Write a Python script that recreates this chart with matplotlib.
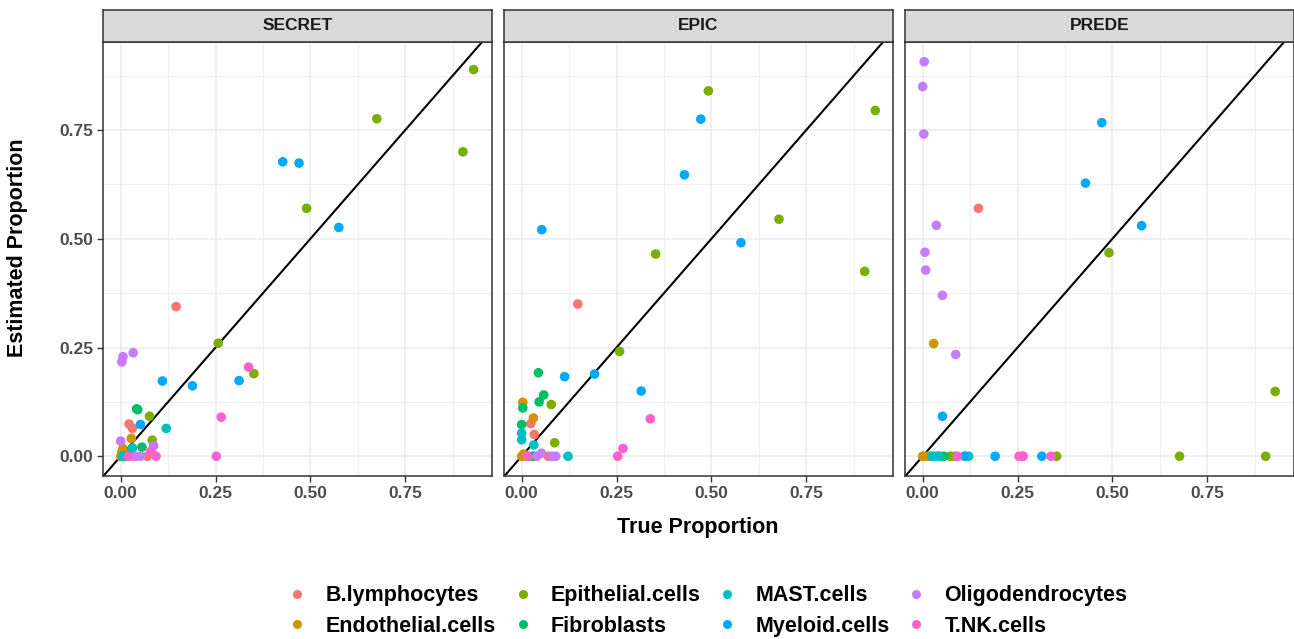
import matplotlib
matplotlib.use("Agg")
import matplotlib.pyplot as plt
from matplotlib.lines import Line2D
import numpy as np

plt.rcParams['font.family'] = ['Liberation Sans', 'DejaVu Sans']
plt.rcParams['font.weight'] = 'bold'

methods = ["SECRET", "EPIC", "PREDE"]
cell_types = ["B.lymphocytes", "Endothelial.cells", "Epithelial.cells", "Fibroblasts",
              "MAST.cells", "Myeloid.cells", "Oligodendrocytes", "T.NK.cells"]
colors = ["#F8766D", "#CD9600", "#7CAE00", "#00BE67", "#00BFC4", "#00A9FF", "#C77CFF", "#FF61CC"]
x_ticks = [0.0, 0.25, 0.5, 0.75]
x_tick_labels = ["0.00", "0.25", "0.50", "0.75"]

# SECRET: (true, estimated) per cell type
secret_true = {
    "B.lymphocytes":     [0.146, 0.022, 0.031, 0.034, 0.070, 0.010],
    "Endothelial.cells": [0.028, 0.006, 0.000, 0.009, 0.015, 0.003],
    "Epithelial.cells":  [0.930, 0.675, 0.902, 0.490, 0.257, 0.351, 0.076, 0.083],
    "Fibroblasts":       [0.042, 0.045, 0.056, 0.026, 0.010],
    "MAST.cells":        [0.120, 0.031, 0.020, 0.005],
    "Myeloid.cells":     [0.427, 0.470, 0.575, 0.110, 0.189, 0.312, 0.052],
    "Oligodendrocytes":  [0.006, 0.003, 0.033, 0.000, 0.087, 0.052, 0.040],
    "T.NK.cells":        [0.337, 0.265, 0.252, 0.079, 0.093, 0.020],
}
secret_est = {
    "B.lymphocytes":     [0.344, 0.074, 0.064, 0.000, 0.000, 0.000],
    "Endothelial.cells": [0.041, 0.018, 0.000, 0.000, 0.005, 0.010],
    "Epithelial.cells":  [0.889, 0.776, 0.700, 0.570, 0.260, 0.190, 0.092, 0.037],
    "Fibroblasts":       [0.109, 0.107, 0.021, 0.004, 0.000],
    "MAST.cells":        [0.064, 0.019, 0.000, 0.000],
    "Myeloid.cells":     [0.677, 0.674, 0.526, 0.173, 0.162, 0.174, 0.073],
    "Oligodendrocytes":  [0.229, 0.217, 0.238, 0.035, 0.024, 0.000, 0.000],
    "T.NK.cells":        [0.205, 0.090, 0.000, 0.011, 0.000, 0.000],
}

epic_true = {
    "B.lymphocytes":     [0.148, 0.024, 0.033, 0.070, 0.034],
    "Endothelial.cells": [0.003, 0.031, 0.000, 0.010, 0.020, 0.005],
    "Epithelial.cells":  [0.492, 0.932, 0.678, 0.353, 0.904, 0.258, 0.078, 0.087],
    "Fibroblasts":       [0.044, 0.058, 0.046, 0.003, 0.000, 0.030],
    "MAST.cells":        [0.000, 0.000, 0.032, 0.122],
    "Myeloid.cells":     [0.472, 0.429, 0.053, 0.578, 0.113, 0.192, 0.315],
    "Oligodendrocytes":  [0.040, 0.052, 0.080, 0.090],
    "T.NK.cells":        [0.339, 0.267, 0.253, 0.015],
}
epic_est = {
    "B.lymphocytes":     [0.350, 0.075, 0.050, 0.000, 0.000],
    "Endothelial.cells": [0.124, 0.088, 0.000, 0.000, 0.000, 0.005],
    "Epithelial.cells":  [0.840, 0.795, 0.545, 0.465, 0.425, 0.241, 0.119, 0.031],
    "Fibroblasts":       [0.192, 0.141, 0.125, 0.111, 0.073, 0.000],
    "MAST.cells":        [0.053, 0.038, 0.026, 0.000],
    "Myeloid.cells":     [0.775, 0.647, 0.521, 0.491, 0.183, 0.189, 0.150],
    "Oligodendrocytes":  [0.000, 0.007, 0.000, 0.000],
    "T.NK.cells":        [0.086, 0.018, 0.000, 0.000],
}

prede_true = {
    "B.lymphocytes":     [0.147, 0.020],
    "Endothelial.cells": [0.029, 0.000, 0.006, 0.012],
    "Epithelial.cells":  [0.491, 0.929, 0.677, 0.904, 0.353, 0.263, 0.073, 0.085],
    "Fibroblasts":       [0.056, 0.045],
    "MAST.cells":        [0.025, 0.035, 0.042, 0.113, 0.121],
    "Myeloid.cells":     [0.472, 0.429, 0.577, 0.052, 0.191, 0.314, 0.110],
    "Oligodendrocytes":  [0.004, 0.000, 0.003, 0.036, 0.006, 0.008, 0.052, 0.087],
    "T.NK.cells":        [0.091, 0.254, 0.338, 0.265],
}
prede_est = {
    "B.lymphocytes":     [0.570, 0.000],
    "Endothelial.cells": [0.259, 0.000, 0.000, 0.000],
    "Epithelial.cells":  [0.468, 0.149, 0.000, 0.000, 0.000, 0.000, 0.000, 0.000],
    "Fibroblasts":       [0.000, 0.000],
    "MAST.cells":        [0.000, 0.000, 0.000, 0.000, 0.000],
    "Myeloid.cells":     [0.767, 0.628, 0.530, 0.092, 0.000, 0.000, 0.000],
    "Oligodendrocytes":  [0.907, 0.850, 0.741, 0.531, 0.469, 0.428, 0.370, 0.234],
    "T.NK.cells":        [0.000, 0.000, 0.000, 0.000],
}

data_true = [secret_true, epic_true, prede_true]
data_est = [secret_est, epic_est, prede_est]

W, H = 1294, 639
fig = plt.figure(figsize=(W / 100, H / 100), dpi=100)

def fx(px):
    return px / W

def fy(py):
    return 1 - py / H

xlim = (-0.0466, 0.9786)
ylim = (-0.0454, 0.9524)
panel_left = [103, 504, 905]
panel_w = 389
panel_top, panel_bot = 42, 476
strip_top = 10

edge_col = "#333333"
for i, m in enumerate(methods):
    ax = fig.add_axes([fx(panel_left[i]), fy(panel_bot), panel_w / W, (panel_bot - panel_top) / H])
    ax.set_xlim(*xlim)
    ax.set_ylim(*ylim)
    ax.set_facecolor("white")
    ax.set_xticks(x_ticks)
    ax.set_xticks([0.125, 0.375, 0.625, 0.875], minor=True)
    ax.set_yticks(x_ticks)
    ax.set_yticks([0.125, 0.375, 0.625, 0.875], minor=True)
    ax.grid(which="major", color="#EBEBEB", linewidth=1.1)
    ax.grid(which="minor", color="#EBEBEB", linewidth=0.55)
    ax.set_axisbelow(True)
    for s in ax.spines.values():
        s.set_color(edge_col)
        s.set_linewidth(1.1)
    ax.tick_params(which="minor", length=0)
    ax.tick_params(which="major", length=4, width=1.0, color=edge_col,
                   labelsize=12.5, labelcolor="#4D4D4D", pad=3)
    ax.set_xticklabels(x_tick_labels, fontweight="bold")
    if i == 0:
        ax.set_yticklabels(x_tick_labels, fontweight="bold")
    else:
        ax.tick_params(axis="y", which="both", left=False, labelleft=False)
    # identity line
    ax.axline((0, 0), slope=1, color="black", linewidth=1.5, zorder=2)
    for ct, c in zip(cell_types, colors):
        ax.scatter(data_true[i][ct], data_est[i][ct], s=48, color=c,
                   edgecolors="none", zorder=3, clip_on=True)
    # strip
    sax = fig.add_axes([fx(panel_left[i]), fy(panel_top), panel_w / W, (panel_top - strip_top) / H])
    sax.set_facecolor("#D9D9D9")
    sax.set_xticks([])
    sax.set_yticks([])
    for s in sax.spines.values():
        s.set_color(edge_col)
        s.set_linewidth(1.1)
    sax.text(0.5, 0.5, m, ha="center", va="center", fontsize=12.5,
             fontweight="bold", color="#1A1A1A", transform=sax.transAxes)

fig.text(fx(698), fy(527), "True Proportion", ha="center", va="center",
         fontsize=15.5, fontweight="bold", color="black")
fig.text(fx(18), fy(248), "Estimated Proportion", ha="center", va="center",
         rotation=90, fontsize=15.5, fontweight="bold", color="black")

handles = [Line2D([0], [0], marker="o", linestyle="none", markersize=6.5,
                  markerfacecolor=c, markeredgecolor="none") for c in colors]
fig.legend(handles, cell_types, ncol=4, loc="center", bbox_to_anchor=(fx(707), fy(611)),
           frameon=False, prop={"size": 15.5, "weight": "bold"},
           handletextpad=0.8, columnspacing=0.75, labelspacing=0.42, handlelength=1.0)

fig.savefig("out.png", dpi=100)
